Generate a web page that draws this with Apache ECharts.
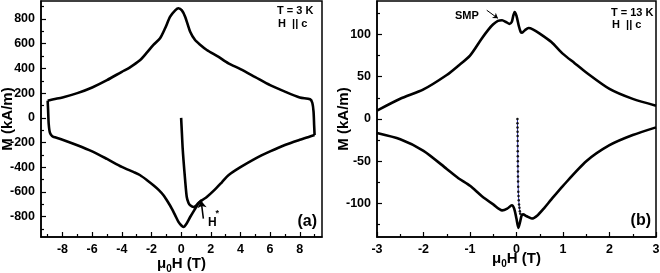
<!DOCTYPE html>
<html>
<head>
<meta charset="utf-8">
<script src="https://cdn.jsdelivr.net/npm/echarts@6/dist/echarts.min.js"></script>
<style>
html, body { margin: 0; padding: 0; background: #fff; }
#chart { width: 660px; height: 273px; }
</style>
</head>
<body>
<div id="chart"></div>
<script>
// panel (a), T = 3 K : field in T, M in kA/m
var upA_H = [9.0, 8.97, 8.93, 8.85, 8.7, 8.0, 7.0, 6.0, 5.0, 4.0, 3.19, 2.5, 1.73, 1.3, 0.94, 0.61, 0.27, 0.05, -0.18, -0.4, -0.74, -1.08, -1.42, -1.87, -2.3, -2.76, -3.5, -4.0, -5.0, -6.0, -7.0, -8.0, -8.6, -9.0];
var upA_M = [-140, -60, 50, 120, 150, 165, 212, 265, 330, 395, 441, 495, 549, 590, 630, 697, 819, 870, 887, 870, 819, 725, 644, 590, 530, 468, 405, 373, 305, 246, 200, 165, 150, 138];
var loA_H = [-9.0, -8.97, -8.93, -8.85, -8.7, -8.5, -8.0, -7.0, -6.0, -5.0, -4.0, -3.19, -2.76, -2.3, -1.87, -1.5, -1.19, -0.9, -0.63, -0.4, -0.18, 0.0, 0.16, 0.35, 0.61, 0.9, 1.17, 1.4, 1.73, 2.2, 2.76, 3.19, 4.0, 5.0, 6.0, 7.0, 8.0, 8.6, 9.0];
var loA_M = [138, 60, -50, -120, -148, -158, -178, -222, -272, -333, -397, -440, -465, -505, -546, -585, -627, -680, -735, -790, -843, -870, -884, -860, -803, -745, -694, -668, -641, -590, -520, -465, -400, -330, -272, -220, -178, -155, -140];
var virA_H = [0, 0.05, 0.1, 0.16, 0.27, 0.38, 0.5, 0.61, 0.83, 1.0, 1.17, 1.39];
var virA_M = [0, -120, -240, -343, -505, -641, -690, -708, -722, -712, -689, -667];

// panel (b), T = 13 K
var upB_H = [3, 2.5, 2, 1.5, 1.25, 1, 0.75, 0.5, 0.35, 0.26, 0.18, 0.12, 0.09, 0.05, 0.0, -0.04, -0.07, -0.1, -0.15, -0.22, -0.31, -0.4, -0.5, -0.6, -0.75, -1, -1.25, -1.5, -2, -2.5, -3];
var upB_M = [15.8, 23.8, 35.6, 55, 66, 77, 91, 101, 106, 107.5, 105, 102, 103, 110, 122, 126.5, 122, 115, 112.5, 114.5, 116.8, 116, 112, 106, 95, 75, 63, 52, 35, 24, 10];
var loB_H = [-3, -2.5, -2, -1.5, -1.25, -1, -0.75, -0.5, -0.31, -0.2, -0.1, -0.05, 0.0, 0.04, 0.08, 0.11, 0.14, 0.22, 0.33, 0.45, 0.6, 0.75, 1, 1.5, 2, 2.5, 3];
var loB_M = [-16.6, -24, -37.6, -59, -70, -79, -91, -101, -108, -106, -102, -106, -118, -128.7, -121, -114, -112.8, -115, -117.6, -114, -105, -95, -79, -50, -31, -19, -9.9];
var virB_H = [0.020, 0.021, 0.022, 0.023, 0.024, 0.025, 0.026, 0.027, 0.028, 0.029, 0.030, 0.031, 0.032, 0.034, 0.036, 0.039, 0.043, 0.048, 0.055, 0.063, 0.072, 0.080];
var virB_M = [0, -5, -10, -15, -20, -26, -32, -38, -44, -50, -56, -62, -68, -74, -80, -86, -91, -96, -101, -105, -109, -112];

// tick labels
var ticksAx = [-8, -6, -4, -2, 0, 2, 4, 6, 8];
var minorAx = [-9, -7, -5, -3, -1, 1, 3, 5, 7, 9];
var ticksAy = [-800, -600, -400, -200, 0, 200, 400, 600, 800];
var minorAy = [-900, -700, -500, -300, -100, 100, 300, 500, 700, 900];
var ticksBy = [-100, -50, 0, 50, 100];
var minorBy = [-125, -75, -25, 25, 75, 125];

function pairs(h, m) {
  return h.map(function (v, i) { return [v, m[i]]; });
}

var FONT = 'Liberation Sans';
var lab = { color: '#000', fontWeight: 'bold', fontSize: 12.5, fontFamily: FONT };
var nameRich = {
  a: { fontSize: 15, fontWeight: 'bold', fontFamily: FONT, color: '#000', padding: [0, 0, 3, 0], verticalAlign: 'bottom' },
  s: { fontSize: 10, fontWeight: 'bold', fontFamily: FONT, color: '#000', verticalAlign: 'bottom' }
};

function mainAxis(grid, min, max, ticks, extra) {
  var ax = {
    type: 'value', gridIndex: grid, min: min, max: max, nameMoveOverlap: false,
    axisLine: { show: true, onZero: false, lineStyle: { color: '#000', width: 1.5 } },
    axisTick: { show: true, inside: true, length: 5, lineStyle: { color: '#000', width: 1.2 } },
    axisLabel: Object.assign({ margin: 6 }, lab),
    splitLine: { show: false }
  };
  if (ticks) {
    ax.axisLabel.customValues = ticks;
    ax.axisTick.customValues = ticks;
  }
  return Object.assign(ax, extra);
}
function minorAxis(grid, min, max, ticks, pos) {
  return {
    type: 'value', gridIndex: grid, min: min, max: max, position: pos,
    axisLine: { show: false, onZero: false },
    axisTick: { show: true, inside: true, length: 3, customValues: ticks, lineStyle: { color: '#000', width: 1.2 } },
    axisLabel: { show: false },
    splitLine: { show: false }
  };
}

var xName = '{a|μ}{s|0}{a|H (T)}';
var yNameStyle = { fontSize: 15, fontWeight: 'bold', fontFamily: FONT, color: '#000' };

var lineSty = { color: '#000', width: 2.6 };

var chart = echarts.init(document.getElementById('chart'));
chart.setOption({
  animation: false,
  backgroundColor: '#fff',
  grid: [
    { left: 41, top: 1, width: 281, bottom: 36, outerBoundsMode: 'none', containLabel: false, show: true, borderColor: '#000', borderWidth: 1.5, backgroundColor: 'transparent' },
    { left: 377, top: 1, right: 4, bottom: 36, outerBoundsMode: 'none', containLabel: false, show: true, borderColor: '#000', borderWidth: 1.5, backgroundColor: 'transparent' }
  ],
  xAxis: [
    mainAxis(0, -9.45, 9.5, ticksAx, { position: 'bottom', name: xName, nameLocation: 'middle', nameGap: 19, nameTextStyle: { rich: nameRich } }),
    minorAxis(0, -9.45, 9.5, minorAx, 'bottom'),
    mainAxis(1, -3, 3, null, { position: 'bottom', interval: 1, minorTick: { show: true, splitNumber: 2, length: 3, lineStyle: { color: '#000', width: 1.2 } }, name: xName, nameLocation: 'middle', nameGap: 14, nameTextStyle: { rich: nameRich } })
  ],
  yAxis: [
    mainAxis(0, -965, 946, ticksAy, { position: 'left', name: 'M (kA/m)', nameLocation: 'middle', nameGap: 26, nameTextStyle: yNameStyle }),
    minorAxis(0, -965, 946, minorAy, 'left'),
    mainAxis(1, -139.5, 139.5, ticksBy, { position: 'left', name: 'M (kA/m)', nameLocation: 'middle', nameGap: 26, nameTextStyle: yNameStyle }),
    minorAxis(1, -139.5, 139.5, minorBy, 'left')
  ],
  series: [
    { type: 'line', xAxisIndex: 0, yAxisIndex: 0, data: pairs(upA_H, upA_M), symbol: 'none', smooth: 0.25, lineStyle: lineSty },
    { type: 'line', xAxisIndex: 0, yAxisIndex: 0, data: pairs(loA_H, loA_M), symbol: 'none', smooth: 0.25, lineStyle: lineSty },
    {
      type: 'line', xAxisIndex: 0, yAxisIndex: 0, data: pairs(virA_H, virA_M), symbol: 'none', smooth: 0.25, lineStyle: lineSty,
      markLine: {
        silent: true, symbol: ['none', 'arrow'], symbolSize: 7, label: { show: false },
        lineStyle: { color: '#000', width: 1.5, type: 'solid' },
        data: [[{ coord: [1.5, -816] }, { coord: [1.35, -672] }]]
      }
    },
    { type: 'line', xAxisIndex: 2, yAxisIndex: 2, data: pairs(upB_H, upB_M), symbol: 'none', smooth: 0.25, lineStyle: lineSty },
    { type: 'line', xAxisIndex: 2, yAxisIndex: 2, data: pairs(loB_H, loB_M), symbol: 'none', smooth: 0.25, lineStyle: lineSty,
      markLine: {
        silent: true, symbol: ['none', 'arrow'], symbolSize: 5, label: { show: false },
        lineStyle: { color: '#000', width: 1, type: 'solid' },
        data: [[{ coord: [-0.64, 128.6] }, { coord: [-0.4, 119] }]]
      }
    },
    {
      type: 'line', xAxisIndex: 2, yAxisIndex: 2, data: pairs(virB_H, virB_M),
      symbol: 'circle', symbolSize: 2.5, showSymbol: true,
      itemStyle: { color: '#111' }, lineStyle: { color: '#2b2ba8', width: 1 }
    }
  ],
  graphic: [
    { type: 'text', x: 277, y: 11, style: { text: 'T = 3 K', font: 'bold 11px "Liberation Sans"', fill: '#000', verticalAlign: 'middle', textVerticalAlign: 'middle' } },
    { type: 'text', x: 278, y: 23.5, style: { text: 'H  || c', font: 'bold 11px "Liberation Sans"', fill: '#000', verticalAlign: 'middle', textVerticalAlign: 'middle' } },
    { type: 'text', x: 317, y: 222, style: { text: '(a)', font: 'bold 16px "Liberation Sans"', fill: '#000', align: 'right', textAlign: 'right', verticalAlign: 'middle', textVerticalAlign: 'middle' } },
    { type: 'text', x: 208, y: 222.5, style: { text: 'H', font: 'bold 12px "Liberation Sans"', fill: '#000', verticalAlign: 'middle', textVerticalAlign: 'middle' } },
    { type: 'text', x: 215.5, y: 214, style: { text: '*', font: 'bold 9px "Liberation Sans"', fill: '#000', verticalAlign: 'middle', textVerticalAlign: 'middle' } },
    { type: 'text', x: 611, y: 12.5, style: { text: 'T = 13 K', font: 'bold 11px "Liberation Sans"', fill: '#000', verticalAlign: 'middle', textVerticalAlign: 'middle' } },
    { type: 'text', x: 612, y: 25, style: { text: 'H  || c', font: 'bold 11px "Liberation Sans"', fill: '#000', verticalAlign: 'middle', textVerticalAlign: 'middle' } },
    { type: 'text', x: 651, y: 221, style: { text: '(b)', font: 'bold 16px "Liberation Sans"', fill: '#000', align: 'right', textAlign: 'right', verticalAlign: 'middle', textVerticalAlign: 'middle' } },
    { type: 'text', x: 455, y: 16, style: { text: 'SMP', font: 'bold 11px "Liberation Sans"', fill: '#000', verticalAlign: 'middle', textVerticalAlign: 'middle' } }
  ]
});
</script>
</body>
</html>
